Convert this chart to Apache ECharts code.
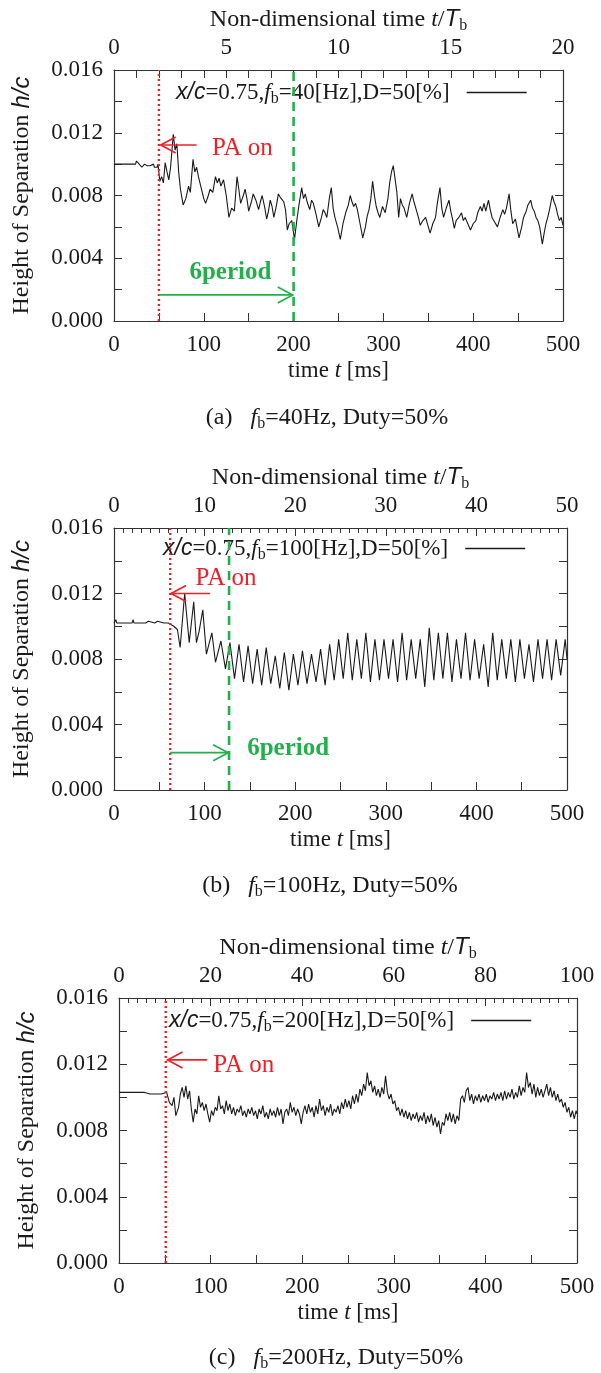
<!DOCTYPE html>
<html>
<head>
<meta charset="utf-8">
<script src="https://cdn.jsdelivr.net/npm/echarts@6/dist/echarts.min.js"></script>
<style>
html, body { margin: 0; background: #fff; }
#chart { width: 601px; height: 1373px; }
</style>
</head>
<body>
<div id="chart"></div>
<script>
// height of separation h/c against time t [ms]
var heightA = [
    [0, .0100], [24, .0100], [25, .0102], [27, .0102], [28, .0100], [30, .0100], [31, .0098], [33, .0098],
    [34, .0100], [36, .0101], [37, .0099], [40, .0099], [41, .0100], [44, .0100], [45, .0098], [48, .0098],
    [49, .0100], [51, .0089], [53, .0092], [55, .0088], [57, .0101], [59, .0095], [61, .0090], [63, .0098],
    [65, .0112], [66, .0119], [68, .0109], [70, .0113], [72, .0095], [74, .0084], [77, .0074], [80, .0078],
    [83, .0086], [85, .0082], [88, .0103], [90, .0095], [92, .0098], [94, .0092], [97, .0085], [100, .0078],
    [102, .0075], [105, .0080], [107, .0084], [110, .0082], [113, .0092], [115, .0088], [117, .0091], [119, .0086],
    [122, .0090], [125, .0080], [128, .0066], [131, .0072], [134, .0070], [137, .0092], [139, .0084], [141, .0075],
    [144, .0080], [146, .0084], [148, .0078], [150, .0070], [153, .0076], [155, .0081], [158, .0077], [161, .0071],
    [163, .0076], [165, .0080], [168, .0072], [170, .0065], [172, .0070], [174, .0077], [176, .0073], [178, .0066],
    [181, .0074], [183, .0081], [185, .0079], [187, .0080], [189, .0076], [191, .0071], [193, .0058], [195, .0062],
    [198, .0064], [201, .0052], [204, .0066], [206, .0074], [209, .0085], [211, .0078], [213, .0081], [215, .0076],
    [218, .0071], [220, .0077], [222, .0075], [225, .0068], [228, .0060], [231, .0066], [233, .0071], [235, .0069],
    [237, .0066], [240, .0079], [242, .0085], [244, .0072], [246, .0066], [249, .0060], [252, .0052], [255, .0062],
    [258, .0069], [261, .0074], [263, .0080], [265, .0076], [267, .0073], [269, .0075], [271, .0071], [274, .0062],
    [277, .0053], [280, .0060], [282, .0067], [284, .0071], [286, .0078], [288, .0089], [290, .0080], [292, .0073],
    [294, .0069], [296, .0066], [299, .0073], [302, .0069], [305, .0078], [307, .0088], [309, .0095], [311, .0099],
    [313, .0099], [315, .0082], [317, .0066], [319, .0078], [321, .0074], [323, .0072], [326, .0066], [329, .0075],
    [332, .0081], [334, .0076], [336, .0075], [339, .0066], [341, .0061], [344, .0064], [347, .0066], [350, .0060],
    [352, .0056], [355, .0062], [358, .0066], [360, .0075], [363, .0085], [365, .0072], [367, .0066], [370, .0072],
    [373, .0077], [375, .0070], [377, .0065], [379, .0059], [381, .0064], [384, .0066], [387, .0069], [389, .0064],
    [391, .0066], [394, .0062], [397, .0058], [400, .0062], [403, .0064], [405, .0069], [408, .0073], [410, .0070],
    [412, .0075], [414, .0070], [417, .0077], [419, .0071], [421, .0066], [424, .0063], [427, .0060], [430, .0066],
    [433, .0071], [435, .0068], [437, .0072], [440, .0081], [442, .0070], [444, .0062], [447, .0065], [449, .0059],
    [451, .0053], [454, .0060], [456, .0066], [459, .0070], [461, .0074], [464, .0077], [466, .0072], [468, .0070],
    [470, .0066], [472, .0064], [474, .0060], [477, .0049], [479, .0056], [481, .0062], [483, .0066], [485, .0071],
    [488, .0080], [490, .0076], [492, .0073], [494, .0068], [496, .0064], [498, .0066], [500, .0061]
];

var heightB = [
    [0, .0102], [2, .0104], [3, .0102], [5, .0103], [6, .0102], [10, .0102], [11, .0103], [12, .0102],
    [20, .0102], [21, .0104], [22, .0102], [35, .0102], [36, .0101], [38, .0103], [39, .0102], [45, .0102],
    [46, .0101], [48, .0103], [50, .0102], [55, .0102], [60, .0102], [62, .0101], [66, .0100], [70, .0098],
    [73, .0087], [78, .0120], [83, .0090], [88, .0115], [91, .0090], [94, .0097], [98, .0110], [102, .0083],
    [108, .0096], [112, .0078], [118, .0091], [123, .0074], [128, .0090], [133, .0068], [138, .0089], [143, .0066],
    [148, .0088], [153, .0065], [158, .0086], [163, .0064], [168, .0087], [173, .0065], [178, .0082], [183, .0062],
    [188, .0084], [193, .0061], [198, .0083], [203, .0064], [208, .0085], [213, .0065], [218, .0083], [223, .0066],
    [228, .0086], [233, .0064], [238, .0089], [243, .0067], [248, .0092], [253, .0068], [258, .0096], [263, .0067],
    [268, .0092], [273, .0068], [278, .0096], [283, .0066], [288, .0092], [293, .0067], [298, .0092], [303, .0068],
    [308, .0092], [313, .0066], [318, .0096], [323, .0067], [328, .0092], [333, .0068], [338, .0092], [343, .0063],
    [348, .0099], [353, .0067], [358, .0096], [363, .0068], [368, .0096], [373, .0066], [378, .0092], [383, .0068],
    [388, .0096], [393, .0067], [398, .0092], [403, .0068], [408, .0089], [413, .0063], [418, .0096], [423, .0067],
    [428, .0092], [433, .0068], [438, .0092], [443, .0066], [448, .0092], [453, .0068], [458, .0089], [463, .0066],
    [468, .0092], [473, .0068], [478, .0092], [483, .0067], [488, .0092], [493, .0070], [498, .0092], [500, .0080]
];

var heightC = [
    [0, .0103], [8, .0103], [9, .0102], [10, .0103], [14, .0103], [15, .0102], [16, .0103], [28, .0103],
    [29, .0102], [30, .0103], [34, .0102], [35, .0103], [38, .0102], [40, .0103], [42, .0102], [44, .0103],
    [46, .0102], [48, .0103], [52, .0103], [55, .0097], [58, .0095], [60, .0100], [62, .0089], [65, .0094],
    [67, .0102], [69, .0106], [71, .0100], [73, .0107], [75, .0099], [77, .0104], [79, .0093], [81, .0085],
    [83, .0093], [85, .0090], [87, .0101], [89, .0094], [91, .0097], [93, .0092], [95, .0096], [97, .0090],
    [99, .0085], [101, .0092], [103, .0089], [105, .0094], [107, .0092], [109, .0101], [111, .0093], [113, .0095],
    [115, .0090], [117, .0098], [119, .0092], [121, .0096], [123, .0090], [125, .0094], [127, .0089], [129, .0093],
    [131, .0091], [133, .0095], [135, .0089], [137, .0092], [139, .0088], [141, .0093], [143, .0090], [145, .0094],
    [147, .0089], [149, .0092], [151, .0087], [153, .0093], [155, .0090], [157, .0095], [159, .0088], [161, .0091],
    [163, .0087], [165, .0093], [167, .0089], [169, .0092], [171, .0088], [173, .0094], [175, .0089], [177, .0093],
    [179, .0084], [181, .0091], [183, .0093], [185, .0089], [187, .0097], [189, .0091], [191, .0094], [193, .0089],
    [195, .0093], [197, .0090], [199, .0084], [201, .0091], [203, .0095], [205, .0090], [207, .0096], [209, .0091],
    [211, .0094], [213, .0088], [215, .0095], [217, .0090], [219, .0099], [221, .0092], [223, .0095], [225, .0089],
    [227, .0094], [229, .0091], [231, .0096], [233, .0089], [235, .0093], [237, .0091], [239, .0095], [241, .0090],
    [243, .0097], [245, .0093], [247, .0099], [249, .0094], [251, .0098], [253, .0093], [255, .0101], [257, .0096],
    [259, .0102], [261, .0097], [263, .0105], [265, .0101], [267, .0108], [269, .0104], [271, .0115], [273, .0107],
    [275, .0110], [277, .0103], [279, .0107], [281, .0101], [283, .0105], [285, .0100], [287, .0106], [289, .0102],
    [291, .0113], [293, .0103], [295, .0099], [297, .0102], [299, .0096], [301, .0098], [303, .0092], [305, .0094],
    [307, .0089], [309, .0093], [311, .0088], [313, .0092], [315, .0087], [317, .0091], [319, .0086], [321, .0090],
    [323, .0087], [325, .0091], [327, .0085], [329, .0089], [331, .0086], [333, .0091], [335, .0084], [337, .0089],
    [339, .0085], [341, .0090], [343, .0083], [345, .0088], [347, .0082], [349, .0086], [351, .0078], [353, .0085],
    [355, .0083], [357, .0090], [359, .0086], [361, .0091], [363, .0085], [365, .0090], [367, .0084], [369, .0089],
    [371, .0086], [373, .0099], [375, .0101], [377, .0097], [379, .0104], [381, .0106], [383, .0098], [385, .0102],
    [387, .0096], [389, .0101], [391, .0098], [393, .0102], [395, .0097], [397, .0101], [399, .0098], [401, .0102],
    [403, .0097], [405, .0101], [407, .0099], [409, .0103], [411, .0098], [413, .0102], [415, .0099], [417, .0103],
    [419, .0098], [421, .0104], [423, .0099], [425, .0103], [427, .0100], [429, .0105], [431, .0099], [433, .0103],
    [435, .0100], [437, .0107], [439, .0101], [441, .0106], [443, .0103], [445, .0115], [447, .0106], [449, .0109],
    [451, .0102], [453, .0108], [455, .0100], [457, .0106], [459, .0101], [461, .0105], [463, .0100], [465, .0104],
    [467, .0108], [469, .0101], [471, .0106], [473, .0100], [475, .0104], [477, .0098], [479, .0102], [481, .0097],
    [483, .0099], [485, .0094], [487, .0097], [489, .0091], [491, .0094], [493, .0088], [495, .0092], [497, .0087],
    [499, .0092], [500, .0090]
];

// burst frequencies [Hz] and the top axis range t/Tb
var burstFreq = [40, 100, 200];
var nonDimMax = [20, 50, 100];
var nonDimStep = [5, 10, 20];
var nonDimMinor = [5, 10, 10];

// time [ms] at which the plasma actuator is switched on, and the end of the 6-period span
var paOnAt = [50, 62, 51];
var sixPeriodEnd = [200, 127, null];

// annotation anchors in data units: arrow [fromT, fromH, toT, toH], label [t, h]
var paArrows = [[92, .01122, 52, .01122], [106, .0120, 63, .0120], [96, .01226, 53, .01226]];
var paLabels = [[109, .0110], [90, .0129], [103, .0119]];
var periodArrows = [[50, .00166, 199, .00166], [62, .00228, 126, .00228], null];
var periodLabels = [[84, .0031], [147, .00256], null];

var captions = ['(a)', '(b)', '(c)'];

var SERIF = 'Liberation Serif';
var SANS = 'Liberation Sans';
var INK = '#1a1a1a';
var FRAME = '#333';
var RED = '#ee2128';
var GREEN = '#21b04b';

function rich(size) {
    return {
        n: {fontFamily: SERIF, fontSize: size, fontWeight: 'normal', color: INK},
        si: {fontFamily: SANS, fontStyle: 'italic', fontWeight: 'normal', fontSize: size, color: INK},
        fi: {fontFamily: SERIF, fontStyle: 'italic', fontWeight: 'normal', fontSize: size, color: INK},
        sub: {fontFamily: SERIF, fontWeight: 'normal', fontSize: Math.round(size * 0.68), color: INK,
            padding: [Math.round(size * 0.55), 0, 0, 0]},
        gap: {width: 12}
    };
}

// open arrow head like gnuplot's, drawn at the "to" end
function arrowItem(params, api) {
    var a = api.coord([api.value(0), api.value(1)]);
    var b = api.coord([api.value(2), api.value(3)]);
    var dir = b[0] > a[0] ? 1 : -1;
    var color = api.visual('color');
    return {
        type: 'group',
        children: [
            {type: 'line', shape: {x1: a[0], y1: a[1], x2: b[0], y2: b[1]}, style: {stroke: color, lineWidth: 1.7}},
            {type: 'polyline', shape: {points: [[b[0] - dir * 15, b[1] - 8], [b[0], b[1]], [b[0] - dir * 15, b[1] + 8]]},
                style: {stroke: color, lineWidth: 1.7, fill: null}}
        ]
    };
}

function textItem(text, font, color) {
    return function (params, api) {
        var p = api.coord([api.value(0), api.value(1)]);
        return {
            type: 'text',
            x: p[0],
            y: p[1],
            style: {text: text, font: font, fill: color, align: 'left', verticalAlign: 'middle'}
        };
    };
}

var layout = [
    {grid: {left: 114, top: 70, width: 449, height: 251}, legend: [176, 81], caption: [327, 403]},
    {grid: {left: 114, top: 528, width: 453, height: 262}, legend: [163, 537], caption: [330, 871]},
    {grid: {left: 119, top: 998, width: 458, height: 265}, legend: [169, 1009], caption: [336, 1343]}
];

var heights = [heightA, heightB, heightC];

var tickStyle = {color: FRAME, width: 1};
var labelStyle = {fontFamily: SERIF, fontSize: 23, color: INK};
var frameLine = {onZero: false, lineStyle: {color: FRAME, width: 1.2}};

var option = {
    animation: false,
    backgroundColor: '#fff',
    grid: [],
    xAxis: [],
    yAxis: [],
    legend: [],
    title: [],
    series: []
};

layout.forEach(function (L, i) {
    var seriesName = 'x/c=0.75,fb=' + burstFreq[i] + '[Hz],D=50[%]';
    option.grid.push(L.grid);

    // bottom: time t [ms]
    option.xAxis.push({
        gridIndex: i, type: 'value', position: 'bottom', min: 0, max: 500, interval: 100,
        name: '{n|time }{fi|t}{n| [ms]}', nameLocation: 'middle', nameGap: 38,
        nameTextStyle: {rich: rich(23)},
        axisLine: frameLine,
        axisTick: {inside: true, length: 8, lineStyle: tickStyle},
        minorTick: {show: true, splitNumber: 2, length: 8, lineStyle: tickStyle},
        axisLabel: Object.assign({margin: 12}, labelStyle),
        splitLine: {show: false}
    });
    // top: non-dimensional time t/Tb
    option.xAxis.push({
        gridIndex: i, type: 'value', position: 'top', min: 0, max: nonDimMax[i], interval: nonDimStep[i],
        name: '{n|Non-dimensional time }{fi|t}{n|/}{si|T}{sub|b}', nameLocation: 'middle', nameGap: 36,
        nameTextStyle: {rich: rich(24)},
        axisLine: frameLine,
        axisTick: {inside: true, length: 8, lineStyle: tickStyle},
        minorTick: {show: true, splitNumber: nonDimMinor[i], length: i === 0 ? 8 : 5, lineStyle: tickStyle},
        axisLabel: Object.assign({margin: 11}, labelStyle),
        splitLine: {show: false}
    });
    option.yAxis.push({
        gridIndex: i, type: 'value', position: 'left', min: 0, max: 0.016, interval: 0.004,
        name: '{n|Height of Separation }{si|h/c}', nameLocation: 'middle', nameGap: 80,
        nameTextStyle: {rich: rich(24)},
        axisLine: frameLine,
        axisTick: {inside: true, length: 8, lineStyle: tickStyle},
        minorTick: {show: true, splitNumber: 2, length: 8, lineStyle: tickStyle},
        axisLabel: Object.assign({margin: 11, formatter: function (v) { return v.toFixed(3); }}, labelStyle),
        splitLine: {show: false}
    });
    // mirrored ticks on the right border
    option.yAxis.push({
        gridIndex: i, type: 'value', position: 'right', min: 0, max: 0.016, interval: 0.004,
        axisLine: {show: true, onZero: false, lineStyle: {color: FRAME, width: 1.2}},
        axisTick: {show: true, inside: true, length: 8, lineStyle: tickStyle},
        minorTick: {show: true, splitNumber: 2, length: 8, lineStyle: tickStyle},
        axisLabel: {show: false},
        splitLine: {show: false}
    });

    var xi = 2 * i, yi = 2 * i;

    option.series.push({
        type: 'line', name: seriesName, xAxisIndex: xi, yAxisIndex: yi,
        data: heights[i], showSymbol: false, symbol: 'none',
        lineStyle: {color: INK, width: 1.1}, itemStyle: {color: INK}, z: 3
    });
    option.series.push({
        type: 'line', xAxisIndex: xi, yAxisIndex: yi, symbol: 'none', silent: true,
        data: [[paOnAt[i], 0], [paOnAt[i], 0.016]],
        lineStyle: {color: RED, width: 2.4, type: [2, 3]}, z: 4
    });
    if (sixPeriodEnd[i] !== null) {
        option.series.push({
            type: 'line', xAxisIndex: xi, yAxisIndex: yi, symbol: 'none', silent: true,
            data: [[sixPeriodEnd[i], 0], [sixPeriodEnd[i], 0.016]],
            lineStyle: {color: GREEN, width: 2.6, type: [9, 6]}, z: 4
        });
    }
    option.series.push({
        type: 'custom', xAxisIndex: xi, yAxisIndex: yi, silent: true, z: 5,
        itemStyle: {color: RED}, data: [paArrows[i]], renderItem: arrowItem
    });
    option.series.push({
        type: 'custom', xAxisIndex: xi, yAxisIndex: yi, silent: true, z: 5,
        data: [paLabels[i]], renderItem: textItem('PA on', '25px "' + SERIF + '"', RED)
    });
    if (periodArrows[i]) {
        option.series.push({
            type: 'custom', xAxisIndex: xi, yAxisIndex: yi, silent: true, z: 5,
            itemStyle: {color: GREEN}, data: [periodArrows[i]], renderItem: arrowItem
        });
        option.series.push({
            type: 'custom', xAxisIndex: xi, yAxisIndex: yi, silent: true, z: 5,
            data: [periodLabels[i]], renderItem: textItem('6period', 'bold 25px "' + SERIF + '"', GREEN)
        });
    }

    option.legend.push({
        data: [seriesName], left: L.legend[0], top: L.legend[1], padding: 0,
        align: 'right', icon: 'rect', itemWidth: 60, itemHeight: 1.3, selectedMode: false,
        formatter: function () {
            return '{si|x/c}{n|=0.75,}{fi|f}{sub|b}{n|=' + burstFreq[i] + '[Hz],D=50[%]}{gap|}';
        },
        textStyle: {rich: rich(23)}
    });

    option.title.push({
        text: '{n|' + captions[i] + '   }{fi|f}{sub|b}{n|=' + burstFreq[i] + 'Hz, Duty=50%}',
        left: L.caption[0], top: L.caption[1], textAlign: 'center', padding: 0,
        textStyle: {fontWeight: 'normal', rich: rich(24)}
    });
});

var chart = echarts.init(document.getElementById('chart'), null, {renderer: 'canvas'});
chart.setOption(option);
</script>
</body>
</html>
